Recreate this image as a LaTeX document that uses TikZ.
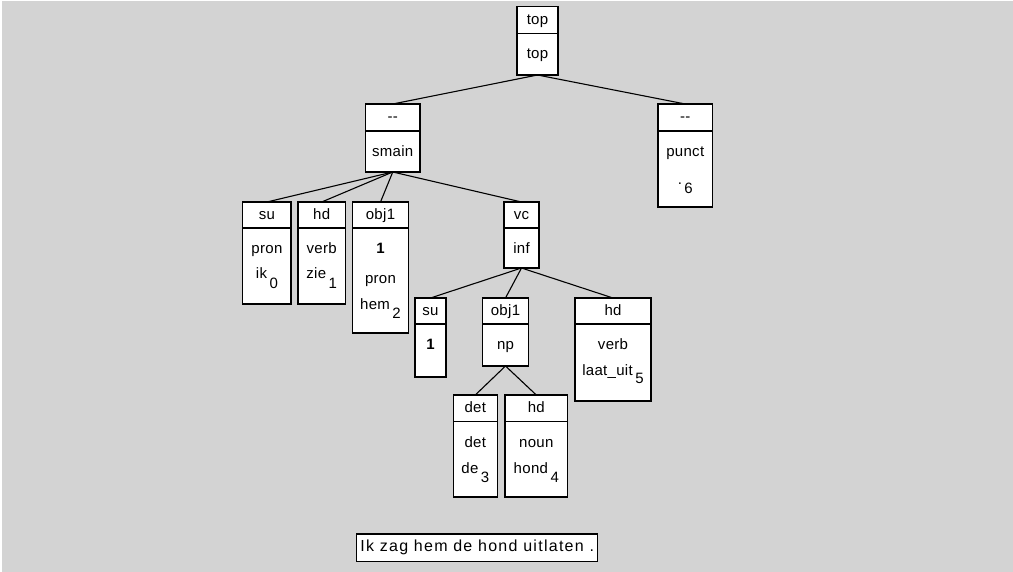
\documentclass[tikz,border=0pt]{standalone}
\usepackage{fontspec}
\newfontfamily\lblfont[LetterSpace=2]{Liberation Sans}
\newfontfamily\sentfont[LetterSpace=8]{Liberation Sans}
\usepackage{tikz}
\usetikzlibrary{positioning}
\definecolor{panelgray}{RGB}{211,211,211}
\newcommand{\wsub}[2][10pt]{\hspace{2.5pt}\raisebox{-#1}{#2}}

\begin{document}
\begin{tikzpicture}[x=1pt,y=-1pt,
  relbox/.style={draw, fill=white, line width=1.2pt, inner sep=0pt, outer sep=0pt,
    minimum height=27pt, anchor=north, font=\lblfont\fontsize{15}{17}\selectfont,
    text height=11pt, text depth=2.5pt},
  catbox/.style={draw, fill=white, line width=1.2pt, inner sep=0pt, outer sep=0pt, anchor=north},
  lbl/.style={inner sep=0pt, font=\lblfont\fontsize{15}{17}\selectfont,
    text height=11pt, text depth=2.5pt},
  edge/.style={line width=1.1pt}]
  % panel
  \useasboundingbox (0,0) rectangle (1013,572);
  \fill[white] (0,0) rectangle (1013,572);
  \fill[panelgray] (1.5,1.5) rectangle (1013,572);
  % top
  \node[relbox, minimum width=41pt] (top-rel) at (537.5,6.5) {top};
  \node[catbox, minimum width=41pt, minimum height=41.5pt] (top) at (537.5,33.5) {};
  \node[lbl] (top-cat) at (537.5,54.5) {top};
  % smain
  \node[relbox, minimum width=54.5pt] (smain-rel) at (392.75,104) {--};
  \node[catbox, minimum width=54.5pt, minimum height=41pt] (smain) at (392.75,131) {};
  \node[lbl] (smain-cat) at (392.75,152.3) {smain};
  % punct
  \node[relbox, minimum width=54.5pt] (punct-rel) at (685.25,104) {--};
  \node[catbox, minimum width=54.5pt, minimum height=76pt] (punct) at (685.25,131) {};
  \node[lbl] (punct-cat) at (685.25,152.3) {punct};
  \node[lbl] (punct-word) at (685.25,180) {.\wsub[9pt]{6}};
  % su ik
  \node[relbox, minimum width=48.3pt] (ik-rel) at (266.9,202) {su};
  \node[catbox, minimum width=48.3pt, minimum height=76pt] (ik) at (266.9,228) {};
  \node[lbl] (ik-cat) at (266.9,249.25) {pron};
  \node[lbl] (ik-word) at (266.9,274.75) {ik\wsub{0}};
  % hd zie
  \node[relbox, minimum width=47.3pt] (zie-rel) at (321.7,202) {hd};
  \node[catbox, minimum width=47.3pt, minimum height=76pt] (zie) at (321.7,228) {};
  \node[lbl] (zie-cat) at (321.7,249.25) {verb};
  \node[lbl] (zie-word) at (321.7,274.75) {zie\wsub{1}};
  % obj1 hem
  \node[relbox, minimum width=55.6pt] (hem-rel) at (380.5,202) {obj1};
  \node[catbox, minimum width=55.6pt, minimum height=105pt] (hem) at (380.5,228) {};
  \node[lbl] (hem-idx) at (380.5,249.25) {\bfseries 1};
  \node[lbl] (hem-cat) at (380.5,279.3) {pron};
  \node[lbl] (hem-word) at (380.5,305) {hem\wsub[9pt]{2}};
  % vc inf
  \node[relbox, minimum width=35pt] (inf-rel) at (521.5,202) {vc};
  \node[catbox, minimum width=35pt, minimum height=40pt] (inf) at (521.5,228) {};
  \node[lbl] (inf-cat) at (521.5,249.25) {inf};
  % su 1
  \node[relbox, minimum width=31pt] (su-rel) at (430.5,298) {su};
  \node[catbox, minimum width=31pt, minimum height=53pt] (su) at (430.5,324) {};
  \node[lbl] (su-idx) at (430.5,345.25) {\bfseries 1};
  % obj1 np
  \node[relbox, minimum width=45.6pt] (np-rel) at (505.5,298) {obj1};
  \node[catbox, minimum width=45.6pt, minimum height=42pt] (np) at (505.5,324) {};
  \node[lbl] (np-cat) at (505.5,345.25) {np};
  % hd laat_uit
  \node[relbox, minimum width=76pt] (laat-rel) at (613,298) {hd};
  \node[catbox, minimum width=76pt, minimum height=77pt] (laat) at (613,324) {};
  \node[lbl] (laat-cat) at (613,345.25) {verb};
  \node[lbl] (laat-word) at (613,370.75) {laat\_uit\wsub[9pt]{5}};
  % det de
  \node[relbox, minimum width=44pt] (de-rel) at (475.3,395) {det};
  \node[catbox, minimum width=44pt, minimum height=75.5pt] (de) at (475.3,421.5) {};
  \node[lbl] (de-cat) at (475.3,443) {det};
  \node[lbl] (de-word) at (475.3,469) {de\wsub[9pt]{3}};
  % hd hond
  \node[relbox, minimum width=62.7pt] (hond-rel) at (536.3,395) {hd};
  \node[catbox, minimum width=62.7pt, minimum height=75.5pt] (hond) at (536.3,421.5) {};
  \node[lbl] (hond-cat) at (536.3,443) {noun};
  \node[lbl] (hond-word) at (536.3,469) {hond\wsub[9pt]{4}};
  % edges
  \foreach \from/\to in {top/smain-rel, top/punct-rel, smain/ik-rel, smain/zie-rel,
      smain/hem-rel, smain/inf-rel, inf/su-rel, inf/np-rel, inf/laat-rel,
      np/de-rel, np/hond-rel}
    \draw[edge] (\from.south) -- (\to.north);
  % sentence
  \node[draw, fill=white, line width=1.2pt, minimum width=241pt, minimum height=27.7pt,
    inner sep=0pt, font=\sentfont\fontsize{16}{18}\selectfont, text height=11.5pt, text depth=3.5pt]
    (sentence) at (477.2,547.9) {Ik zag hem de hond uitlaten .};
\end{tikzpicture}
\end{document}
